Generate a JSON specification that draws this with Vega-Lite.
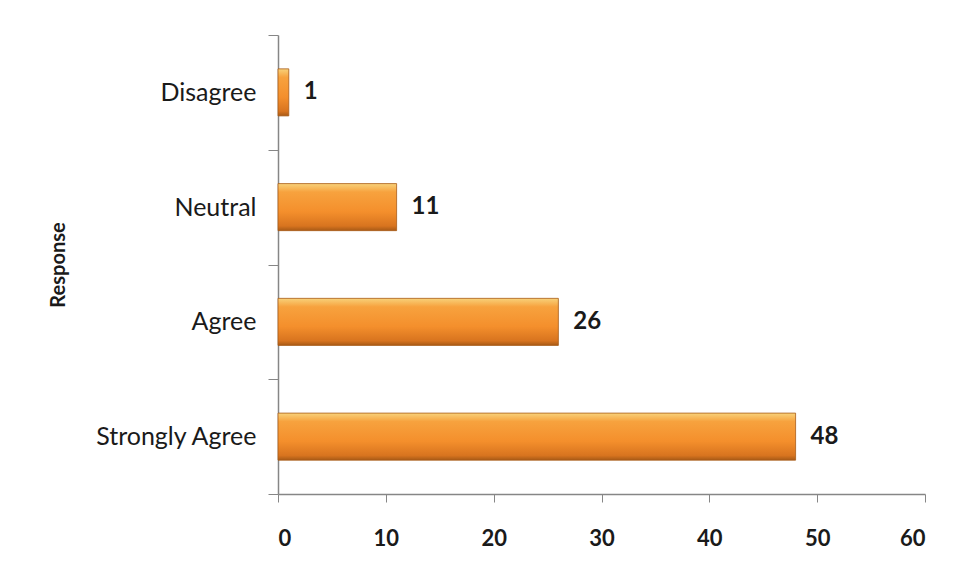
{
  "$schema": "https://vega.github.io/schema/vega-lite/v6.json",
  "autosize": {"type": "none"},
  "width": 647,
  "height": 459,
  "padding": {"left": 278, "top": 35, "right": 35, "bottom": 83},
  "background": "white",
  "config": {
    "view": {"stroke": null},
    "font": "Lato"
  },
  "data": {
    "values": [
      {"response": "Disagree", "count": 1},
      {"response": "Neutral", "count": 11},
      {"response": "Agree", "count": 26},
      {"response": "Strongly Agree", "count": 48}
    ]
  },
  "encoding": {
    "y": {
      "field": "response",
      "type": "nominal",
      "sort": ["Disagree", "Neutral", "Agree", "Strongly Agree"],
      "scale": {"paddingInner": 0, "paddingOuter": 0},
      "axis": {
        "title": "Response",
        "titleFont": "Lato",
        "titleFontSize": 20,
        "titleFontWeight": "bold",
        "titleColor": "#1a1a1a",
        "titlePadding": 26,
        "labelFont": "Lato",
        "labelFontSize": 25,
        "labelColor": "#1a1a1a",
        "labelPadding": 12,
        "tickBand": "extent",
        "tickSize": 10,
        "tickColor": "#868686",
        "domainColor": "#868686",
        "domainWidth": 1.5
      }
    },
    "x": {
      "field": "count",
      "type": "quantitative",
      "scale": {"domain": [0, 60], "nice": false},
      "axis": {
        "title": null,
        "values": [0, 10, 20, 30, 40, 50, 60],
        "grid": false,
        "labelFont": "Lato",
        "labelFontSize": 22,
        "labelFontWeight": "bold",
        "labelColor": "#1a1a1a",
        "labelPadding": 26,
        "tickSize": 8,
        "tickColor": "#868686",
        "domainColor": "#868686",
        "domainWidth": 1.5
      }
    }
  },
  "layer": [
    {
      "mark": {
        "type": "bar",
        "height": {"band": 0.41},
        "stroke": "#a85a16",
        "strokeWidth": 0.8,
        "color": {
          "gradient": "linear",
          "x1": 0, "y1": 0, "x2": 0, "y2": 1,
          "stops": [
            {"offset": 0, "color": "#f8d27a"},
            {"offset": 0.18, "color": "#f7a23e"},
            {"offset": 0.6, "color": "#f48f2c"},
            {"offset": 0.9, "color": "#d8741f"},
            {"offset": 1, "color": "#a85a16"}
          ]
        }
      }
    },
    {
      "mark": {
        "type": "text",
        "align": "left",
        "baseline": "middle",
        "dx": 15,
        "font": "Lato",
        "fontSize": 24,
        "fontWeight": "bold",
        "color": "#1a1a1a"
      },
      "encoding": {
        "text": {"field": "count", "type": "quantitative"}
      }
    }
  ]
}
